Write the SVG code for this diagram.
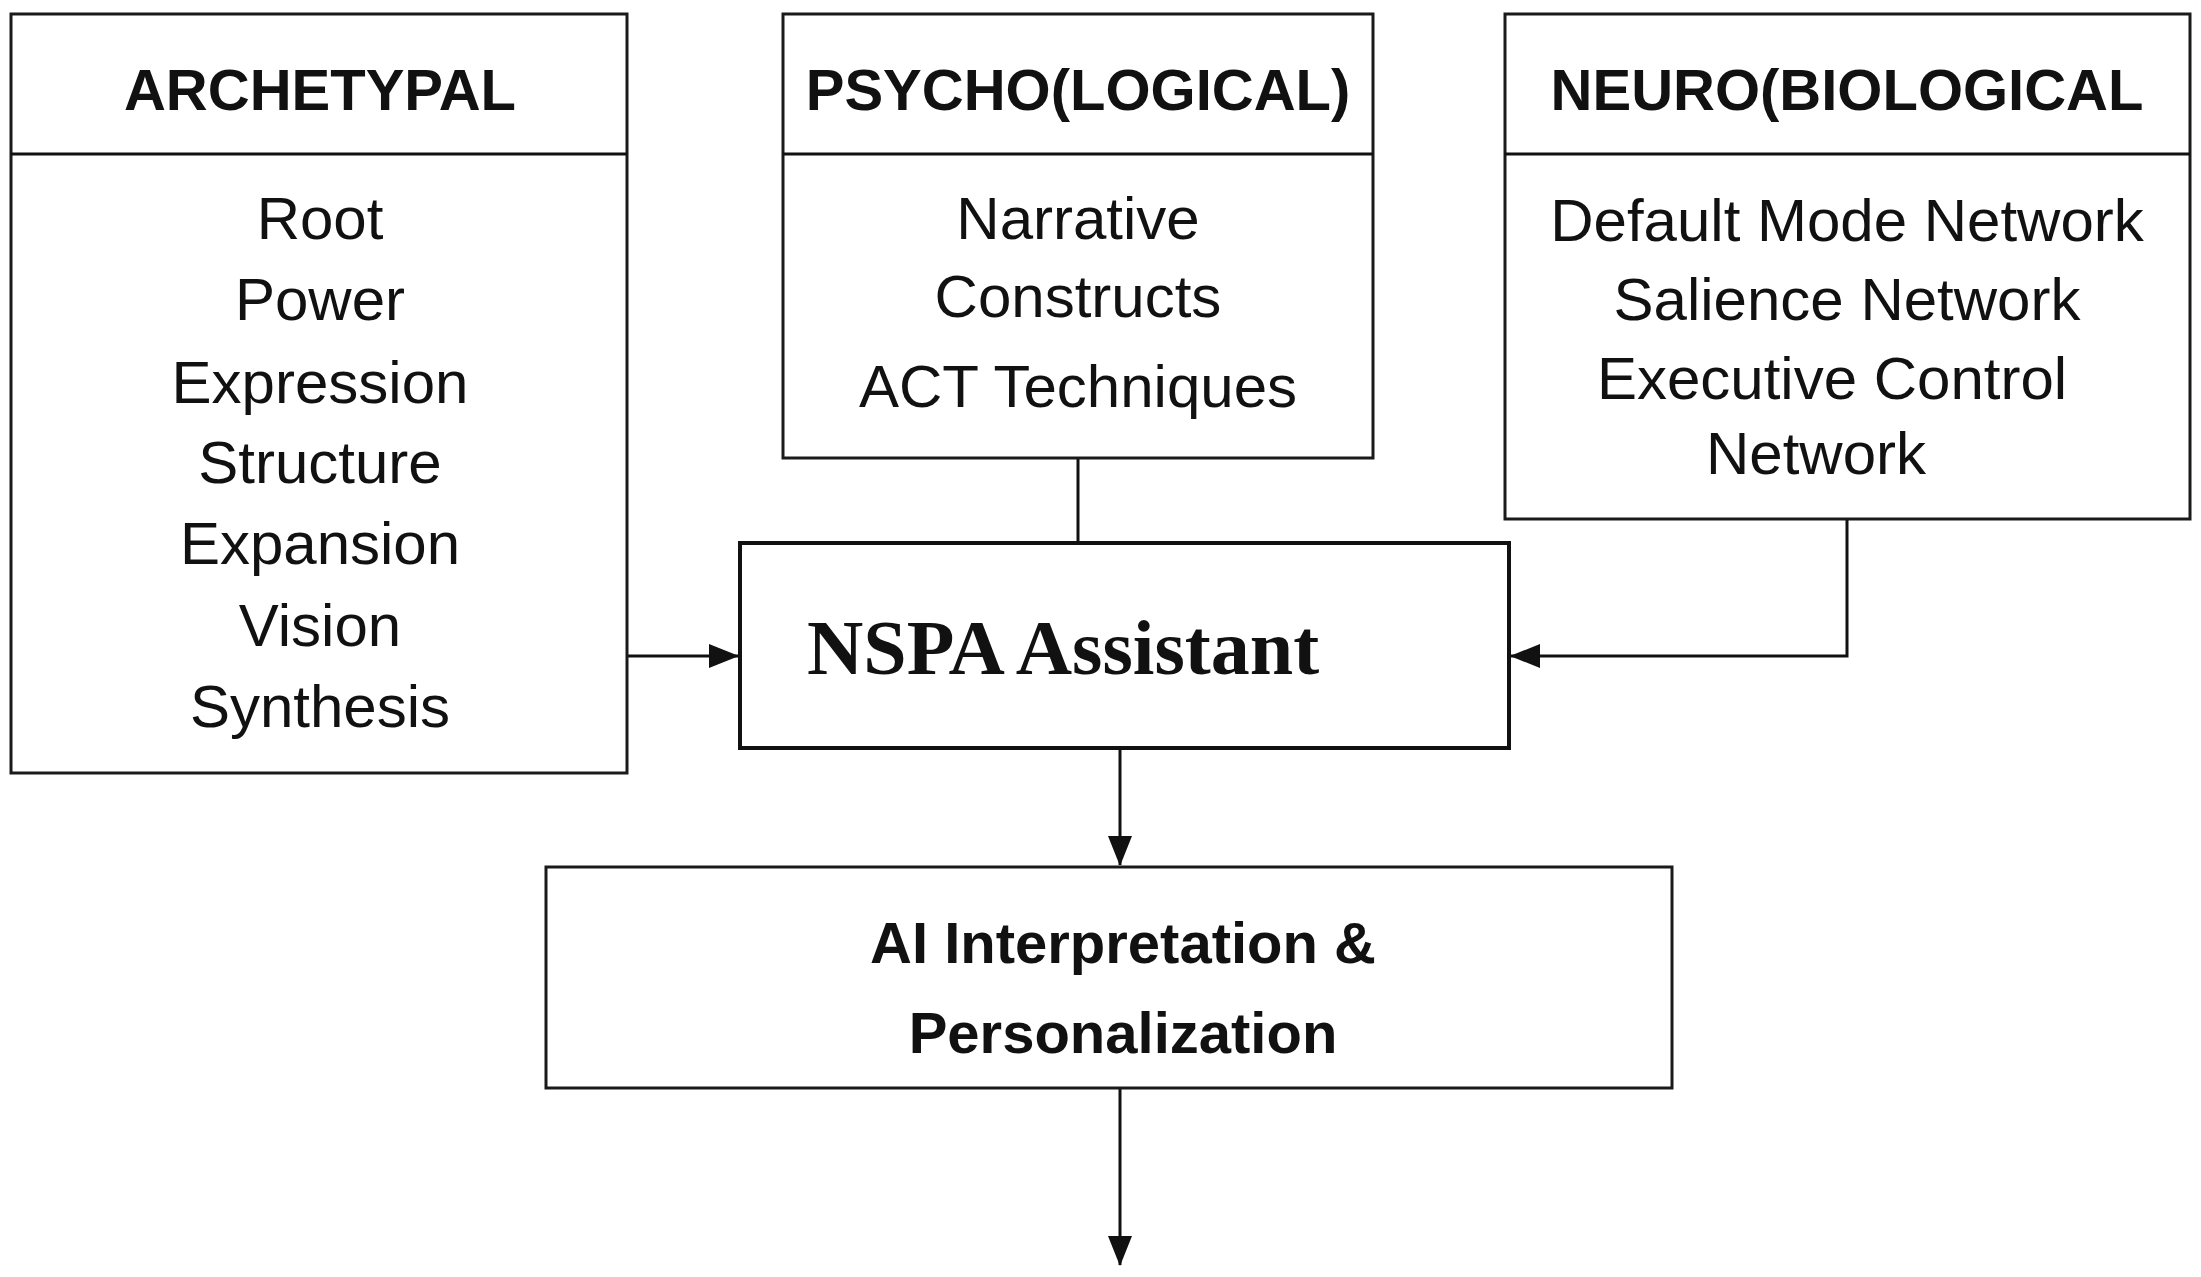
<svg xmlns="http://www.w3.org/2000/svg" width="2201" height="1277" viewBox="0 0 2201 1277">
<style>
.box{fill:#fff;stroke:#1a1a1a;stroke-width:3}
.thick{fill:#fff;stroke:#111;stroke-width:4}
.h{font-family:"Liberation Sans",Arial,sans-serif;font-weight:bold;font-size:58px;text-anchor:middle;fill:#111}
.b{font-family:"Liberation Sans",Arial,sans-serif;font-size:60px;text-anchor:middle;fill:#111}
.c{fill:none;stroke:#111;stroke-width:3}
</style>
<defs><marker id="ar" markerWidth="12" markerHeight="12" refX="11" refY="6" orient="auto" markerUnits="userSpaceOnUse" viewBox="0 0 12 12"><path d="M0,0 L12,6 L0,12 z" fill="#111"/></marker>
<marker id="ar2" markerWidth="30" markerHeight="24" refX="29" refY="12" orient="auto" markerUnits="userSpaceOnUse" viewBox="0 0 30 24"><path d="M0,0 L30,12 L0,24 z" fill="#111"/></marker></defs>
<rect width="2201" height="1277" fill="#fff"/>
<g id="connectors">
<path class="c" d="M1078,458 V543"/>
<path class="c" d="M627,656 H738" marker-end="url(#ar2)"/>
<path class="c" d="M1847,519 V656 H1511" marker-end="url(#ar2)"/>
<path class="c" d="M1120,748 V865" marker-end="url(#ar2)"/>
<path class="c" d="M1120,1088 V1265" marker-end="url(#ar2)"/>
</g>
<g id="archetypal">
<rect class="box" x="11" y="14" width="616" height="759"/>
<line class="c" x1="11" y1="154" x2="627" y2="154"/>
<text class="h" x="320" y="110">ARCHETYPAL</text>
<text class="b" x="320" y="239">Root</text>
<text class="b" x="320" y="320">Power</text>
<text class="b" x="320" y="403">Expression</text>
<text class="b" x="320" y="483">Structure</text>
<text class="b" x="320" y="564">Expansion</text>
<text class="b" x="320" y="646">Vision</text>
<text class="b" x="320" y="727">Synthesis</text>
</g>
<g id="psycho">
<rect class="box" x="783" y="14" width="590" height="444"/>
<line class="c" x1="783" y1="154" x2="1373" y2="154"/>
<text class="h" x="1078" y="110">PSYCHO(LOGICAL)</text>
<text class="b" x="1078" y="239">Narrative</text>
<text class="b" x="1078" y="317">Constructs</text>
<text class="b" x="1078" y="407">ACT Techniques</text>
</g>
<g id="neuro">
<rect class="box" x="1505" y="14" width="685" height="505"/>
<line class="c" x1="1505" y1="154" x2="2190" y2="154"/>
<text class="h" x="1847" y="110">NEURO(BIOLOGICAL</text>
<text class="b" x="1847" y="241">Default Mode Network</text>
<text class="b" x="1847" y="320">Salience Network</text>
<text class="b" x="1832" y="399">Executive Control</text>
<text class="b" x="1816" y="474">Network</text>
</g>
<g id="nspa">
<rect class="thick" x="740" y="543" width="769" height="205"/>
<text x="807" y="674" font-family="'Liberation Serif','Times New Roman',serif" font-weight="bold" font-size="78" fill="#111">NSPA Assistant</text>
</g>
<g id="ai">
<rect class="box" x="546" y="867" width="1126" height="221"/>
<text class="h" x="1123" y="963" font-size="68">AI Interpretation &amp;</text>
<text class="h" x="1123" y="1053" font-size="68">Personalization</text>
</g>
</svg>
